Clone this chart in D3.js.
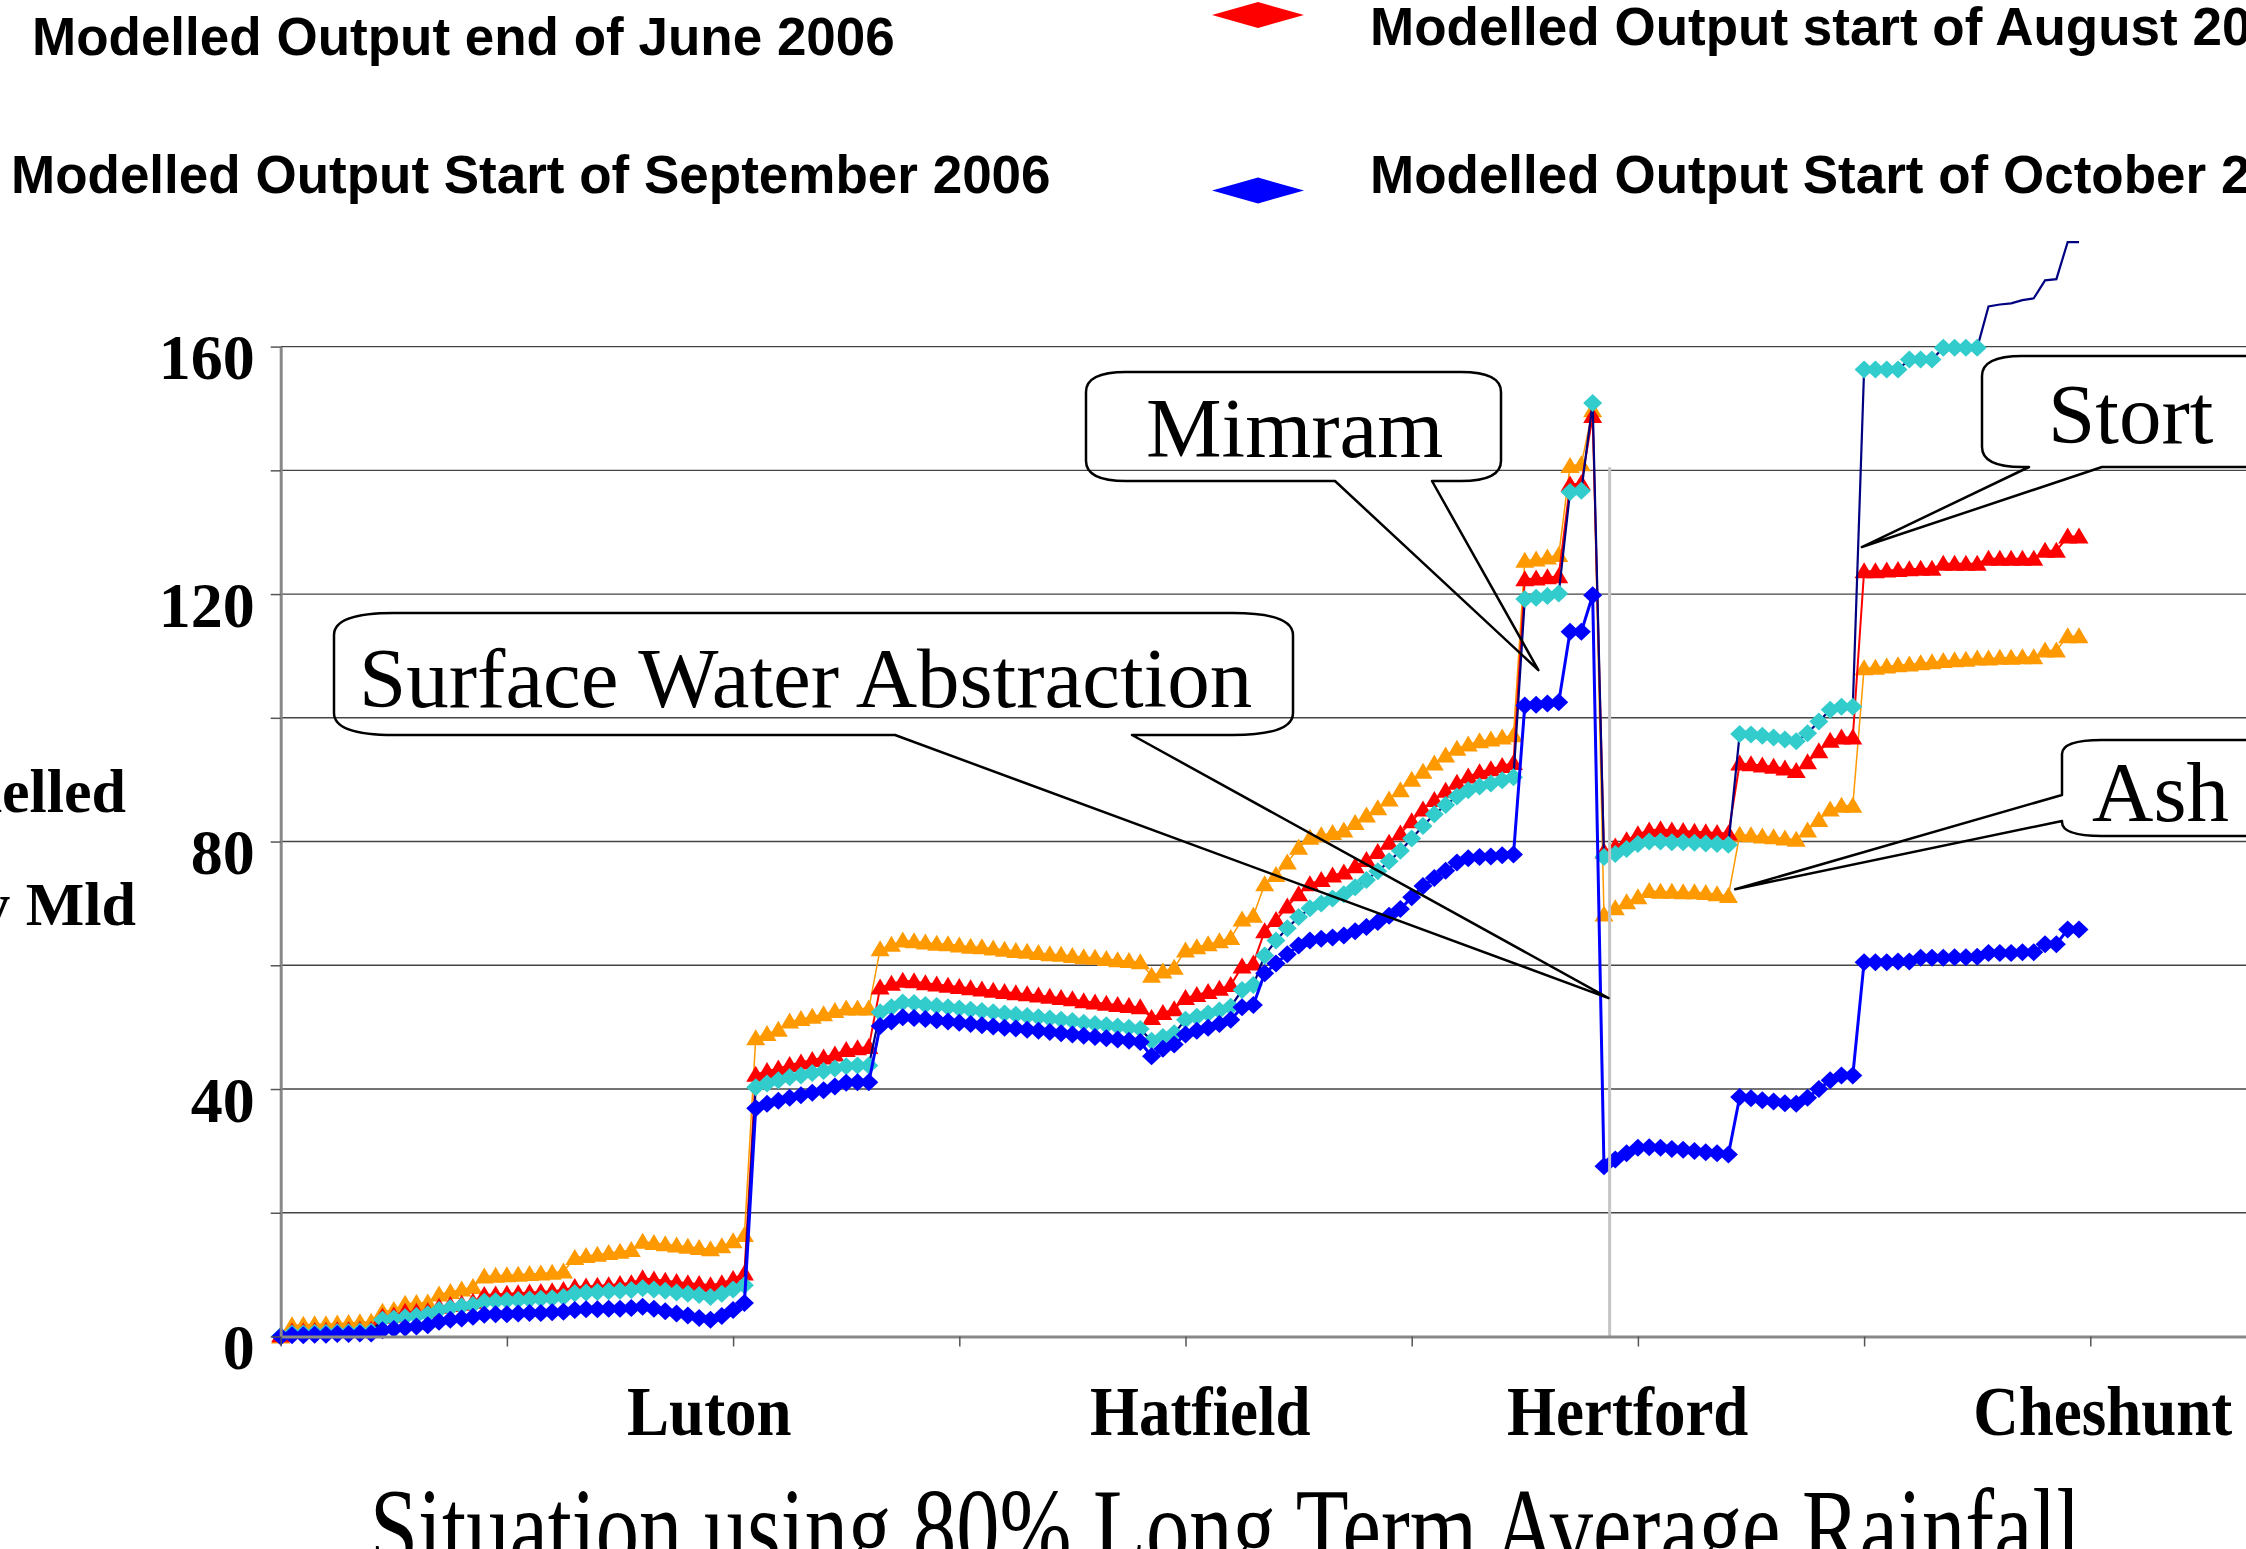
<!DOCTYPE html>
<html lang="en">
<head>
<meta charset="utf-8">
<title>Modelled output along the river, 80% LTA rainfall</title>
<script src="https://d3js.org/d3.v7.min.js"></script>
<style>
  body { margin: 0; background: #fff; }
  svg { display: block; }
  .serif { font-family: "Liberation Serif", "Times New Roman", serif; }
  .sans { font-family: "Liberation Sans", Arial, sans-serif; font-weight: bold; }
</style>
</head>
<body>
<script>

// ---- data, one value per reach / category ----
var seriesNames = ["Modelled Output end of June 2006", "Modelled Output start of August 2006",
                   "Modelled Output Start of September 2006", "Modelled Output Start of October 2006"];

var outJune = [0,
  1.8,1.9,2.0,2.0,2.1,2.2,2.3,2.4, 4.0,4.3, 5.3,5.4,5.5, 6.8,7.2,7.6,8.0,
  9.7,9.8,9.9,10.0,10.1,10.2,10.3,10.5, 12.7,13.0,13.2,13.5,13.7,14.0,
  15.3,15.1,14.9,14.7,14.5,14.3,14.1, 14.6,15.4,16.4,
  48.2,48.9,49.6,50.9,51.3,51.7,52.1,52.6,53.0,53.0,53.0,
  62.6,63.3,64.0,
  63.9,63.7,63.5,63.4,63.2,63.0,62.9,62.7,62.5,62.3,62.2,62.0,61.8,61.7,61.5,61.3,61.2,61.0,60.8,60.7,60.5,
  58.3,59.0,59.6, 62.4,62.9,63.4,63.9,64.4, 67.4,68.0,
  73.1,74.6,76.6,79.0,80.6,81.0,81.4,81.8,83.0,84.2,85.4,86.8,88.3,90.0,91.3,92.6,93.9,95.0,95.7,96.2,96.5,96.8,97.2,
  125.4,125.6,125.9,126.3,140.7,141.0,149.7,
  68.2,69.2,70.2,71.0,72.0,71.9,71.9,71.8,71.8,71.7,71.5,71.2,
  81.1,81.0,80.8,80.7,80.5,80.3, 81.8,83.5,85.2,85.8,85.8,
  108.0,108.1,108.3,108.5,108.6,108.8,109.0,109.2,109.3,109.4,109.6,109.6,109.7,109.7,109.8,109.8,110.9,110.9,113.2,113.2];

var outAugust = [0.2,
  0.8,0.8,0.9,0.9,1.0,1.0,1.1,1.1, 3.2,3.4, 4.0,4.0,4.1, 4.8,5.1,5.3,5.6,
  6.7,6.8,6.9,7.0,7.1,7.2,7.3,7.5, 8.0,8.1,8.2,8.3,8.5,8.6,
  9.4,9.2,9.0,8.8,8.6,8.5,8.3, 8.6,9.3,10.2,
  42.3,42.9,43.3,43.9,44.3,44.7,45.1,45.6,46.3,46.6,46.8,
  56.4,57.0,57.5,
  57.4,57.1,56.9,56.7,56.5,56.3,56.1,55.9,55.7,55.5,55.3,55.1,54.9,54.7,54.5,54.2,54.0,53.8,53.6,53.4,53.2,
  51.5,52.3,52.9, 54.7,55.2,55.7,56.2,56.8, 59.8,60.3,
  65.5,67.3,69.5,71.5,73.1,73.8,74.5,75.0,76.0,77.0,78.3,79.8,81.3,83.3,85.2,86.7,88.2,89.5,90.5,91.2,91.7,92.2,92.7,
  122.4,122.5,122.7,122.9,137.7,137.9,148.8,
  78.4,79.2,80.2,81.2,81.8,82.0,81.8,81.7,81.6,81.5,81.4,81.3,
  92.6,92.5,92.3,92.1,91.8,91.4, 92.8,94.6,96.3,96.8,96.8,
  123.7,123.7,123.8,123.9,124.0,124.1,124.1,124.9,124.9,124.9,124.9,125.7,125.7,125.7,125.7,125.7,127.0,127.0,129.3,129.3];

var outSeptember = [0.1,
  0.5,0.5,0.6,0.6,0.7,0.7,0.8,0.8, 2.7,2.9,3.1,3.3,3.6, 4.3,4.6,4.9,5.1,
  5.6,5.7,5.8,5.9,6.0,6.1,6.2,6.4, 7.0,7.1,7.2,7.3,7.4,7.5,
  7.8,7.6,7.4,7.1,6.9,6.7,6.4, 6.9,7.6,8.3,
  40.3,40.9,41.4,41.9,42.2,42.6,42.9,43.3,43.7,43.8,43.8,
  52.4,53.2,54.0,
  53.9,53.6,53.4,53.2,53.0,52.8,52.6,52.4,52.2,52.0,51.8,51.6,51.4,51.2,51.0,50.7,50.5,50.3,50.1,49.9,49.7,
  47.8,48.4,49.0, 51.2,51.7,52.2,52.7,53.3, 56.0,56.8,
  61.6,64.0,66.0,67.8,69.2,70.0,70.8,71.5,72.6,73.8,75.2,76.8,78.5,80.5,82.5,84.4,85.9,87.3,88.3,88.9,89.4,89.9,90.4,
  119.2,119.4,119.7,120.1,136.5,136.7,150.9,
  77.5,78.0,78.8,79.6,80.0,80.0,79.9,79.9,79.8,79.7,79.6,79.5,
  97.4,97.3,97.1,96.8,96.5,96.2, 97.5,99.4,101.3,101.8,101.8,
  156.3,156.3,156.3,156.3,157.9,157.9,157.9,159.8,159.8,159.8,159.8,166.5,166.8,167.0,167.5,167.8,170.7,170.9,176.9,176.9];

var outOctober = [0,
  0.2,0.2,0.3,0.3,0.4,0.4,0.5,0.5, 1.0,1.2,1.4,1.6,1.8, 2.4,2.7,2.9,3.2,
  3.5,3.6,3.6,3.7,3.8,3.8,3.9,4.0, 4.3,4.4,4.4,4.5,4.5,4.6,
  4.8,4.5,4.1,3.7,3.4,3.0,2.7, 3.3,4.3,5.4,
  36.9,37.6,38.1,38.6,39.0,39.4,39.8,40.4,41.0,41.1,41.1,
  50.2,50.9,51.6,
  51.5,51.3,51.1,50.9,50.7,50.5,50.3,50.1,49.9,49.8,49.6,49.4,49.2,49.0,48.8,48.6,48.4,48.2,48.0,47.8,47.6,
  45.3,46.5,47.2, 48.8,49.4,49.9,50.5,51.2, 53.2,53.6,
  58.7,60.3,61.8,63.2,64.0,64.3,64.5,64.8,65.5,66.2,67.0,68.0,69.1,71.0,72.8,74.1,75.3,76.6,77.3,77.5,77.6,77.8,77.9,
  102.0,102.1,102.3,102.5,113.9,113.9,119.8,
  27.5,28.6,29.6,30.5,30.6,30.5,30.3,30.2,30.0,29.8,29.6,29.4,
  38.7,38.5,38.2,38.0,37.7,37.6, 38.6,40.0,41.4,42.2,42.2,
  60.5,60.5,60.5,60.6,60.6,61.2,61.2,61.2,61.3,61.3,61.4,62.0,62.0,62.0,62.1,62.1,63.4,63.4,65.8,65.8];

var yTicks = [0, 20, 40, 60, 80, 100, 120, 140, 160];
var xTicks = [0, 20, 40, 60, 80, 100, 120, 140, 160];    // category index of each tick mark
var places = ["Luton", "Hatfield", "Hertford", "Cheshunt"];
var placeAt = [37.9, 81.3, 119.1, 161.1];                // category index under each town name

var calloutText = ["Surface Water Abstraction", "Mimram", "Stort", "Ash"];
var calloutTip = [[117.4, 54.7], [111.2, 107.7], [139.8, 127.6], [128.6, 72.3]];  // [category, Mld]
var weirLine = [117.5, 0, 140.5];                        // [category, from, to]

// ---- setup ----
var w = 2246, h = 1549;

var svg = d3.select("body").append("svg")
    .attr("width", w)
    .attr("height", h);

svg.append("rect").attr("width", w).attr("height", h).attr("fill", "#fff");

var x = d3.scaleLinear().domain([0, 174]).range([280.7, 280.7 + 174 * 11.31]);
var y = d3.scaleLinear().domain([0, 160]).range([1336.5, 346.6]);

// gridlines
svg.append("g").selectAll("line")
    .data(yTicks.filter(function(d) { return d > 0; }))
    .join("line")
    .attr("x1", x(0)).attr("x2", w)
    .attr("y1", function(d) { return y(d); })
    .attr("y2", function(d) { return y(d); })
    .attr("stroke", "#444")
    .attr("stroke-width", 1.4);

// series: line colour, marker colour, marker shape
var tri = "M0,-9L9.5,7L-9.5,7Z";
var dia = "M0,-9L9.5,0L0,9L-9.5,0Z";
var series = [
  { values: outJune,      line: "#FF9900", fill: "#FF9900", lw: 1.5, shape: tri },
  { values: outAugust,    line: "#FF0000", fill: "#FF0000", lw: 2,   shape: tri },
  { values: outSeptember, line: "#000080", fill: "#33CCCC", lw: 2.2, shape: dia },
  { values: outOctober,   line: "#0000FF", fill: "#0000FF", lw: 3,   shape: dia }
];

var line = d3.line()
    .x(function(d, i) { return x(i); })
    .y(function(d) { return y(d); });

series.forEach(function(s) {
  var g = svg.append("g");
  g.append("path")
    .attr("d", line(s.values))
    .attr("fill", "none")
    .attr("stroke", s.line)
    .attr("stroke-width", s.lw);

  // markers above the axis maximum are not drawn
  g.selectAll("path.mk")
    .data(s.values.map(function(v, i) { return [i, v]; }).filter(function(p) { return p[1] <= 160.5; }))
    .join("path")
    .attr("class", "mk")
    .attr("d", s.shape)
    .attr("transform", function(p) { return "translate(" + x(p[0]) + "," + y(p[1]) + ")"; })
    .attr("fill", s.fill);
});

// light grey vertical line at Hertford
svg.append("line")
    .attr("x1", x(weirLine[0])).attr("x2", x(weirLine[0]))
    .attr("y1", y(weirLine[1])).attr("y2", y(weirLine[2]))
    .attr("stroke", "#c4c4c4")
    .attr("stroke-width", 3);

// axes
var yAxis = d3.axisLeft(y).tickValues(yTicks).tickSize(10).tickSizeOuter(0).tickPadding(16)
    .tickFormat(function(d) { return d % 40 === 0 ? d : ""; });
var gy = svg.append("g").attr("transform", "translate(" + x(0) + ",0)").call(yAxis);
gy.select(".domain").attr("stroke", "#888").attr("stroke-width", 3);
gy.selectAll(".tick line").attr("stroke", "#555").attr("stroke-width", 1.5);
gy.selectAll(".tick text")
    .attr("class", "serif")
    .attr("fill", "#000")
    .attr("dy", "0.5em")
    .style("font-size", "64px")
    .style("font-weight", "bold");

var xAxis = d3.axisBottom(x).tickValues(xTicks).tickSize(10).tickSizeOuter(0).tickFormat("");
var gx = svg.append("g").attr("transform", "translate(0," + y(0) + ")").call(xAxis);
gx.select(".domain").attr("stroke", "#888").attr("stroke-width", 3);
gx.selectAll(".tick line").attr("stroke", "#555").attr("stroke-width", 1.5);

svg.append("g").selectAll("text")
    .data(places)
    .join("text")
    .attr("class", "serif")
    .attr("text-anchor", "middle")
    .attr("transform", function(d, i) { return "translate(" + x(placeAt[i]) + ",1435) scale(1,1.1)"; })
    .style("font-size", "63px")
    .style("font-weight", "bold")
    .text(function(d) { return d; });

// y axis title (cut by the left edge in the original)
svg.append("text").attr("class", "serif").attr("text-anchor", "end")
    .attr("x", 126).attr("y", 812)
    .style("font-size", "62px").style("font-weight", "bold")
    .text("Modelled");
svg.append("text").attr("class", "serif").attr("text-anchor", "end")
    .attr("x", 136).attr("y", 925)
    .style("font-size", "62px").style("font-weight", "bold")
    .text("Supply Mld");

// bottom title
svg.append("text").attr("class", "serif")
    .attr("transform", "translate(370,1566) scale(1,1.3)")
    .style("font-size", "86.5px")
    .text("Situation using 80% Long Term Average Rainfall");

// legend
svg.append("text").attr("class", "sans").attr("x", 32).attr("y", 55)
    .style("font-size", "53px").text(seriesNames[0]);
svg.append("text").attr("class", "sans").attr("x", 11).attr("y", 193)
    .style("font-size", "53px").text(seriesNames[2]);
svg.append("path").attr("d", "M-46,0L0,-13L46,0L0,13Z")
    .attr("transform", "translate(1258,15)").attr("fill", "#FF0000");
svg.append("text").attr("class", "sans").attr("x", 1370).attr("y", 45)
    .style("font-size", "53px").text(seriesNames[1]);
svg.append("path").attr("d", "M-46,0L0,-13L46,0L0,13Z")
    .attr("transform", "translate(1258,190.5)").attr("fill", "#0000FF");
svg.append("text").attr("class", "sans").attr("x", 1370).attr("y", 193)
    .style("font-size", "53px").text(seriesNames[3]);

// callouts
function calloutPath(b, tail, tip) {
  var p = d3.path();
  p.moveTo(b.x0 + b.rx, b.y0);
  p.lineTo(b.x1 - b.rx, b.y0);
  p.quadraticCurveTo(b.x1, b.y0, b.x1, b.y0 + b.ry);
  p.lineTo(b.x1, b.y1 - b.ry);
  p.quadraticCurveTo(b.x1, b.y1, b.x1 - b.rx, b.y1);
  if (tail.side == "bottom") {
    p.lineTo(tail.c, b.y1);
    p.lineTo(tip[0], tip[1]);
    p.lineTo(tail.a, b.y1);
  }
  p.lineTo(b.x0 + b.rx, b.y1);
  p.quadraticCurveTo(b.x0, b.y1, b.x0, b.y1 - b.ry);
  if (tail.side == "left") {
    p.lineTo(b.x0, tail.c);
    p.lineTo(tip[0], tip[1]);
    p.lineTo(b.x0, tail.a);
  }
  p.lineTo(b.x0, b.y0 + b.ry);
  p.quadraticCurveTo(b.x0, b.y0, b.x0 + b.rx, b.y0);
  p.closePath();
  return p.toString();
}

var boxes = [
  { b: { x0: 334, y0: 613, x1: 1293, y1: 735, rx: 60, ry: 22 }, tail: { side: "bottom", a: 895, c: 1132 }, tx: 359, ty: 707 },
  { b: { x0: 1086, y0: 372, x1: 1501, y1: 481, rx: 40, ry: 20 }, tail: { side: "bottom", a: 1335, c: 1432 }, tx: 1146, ty: 457 },
  { b: { x0: 1982, y0: 356, x1: 2330, y1: 467, rx: 40, ry: 20 }, tail: { side: "bottom", a: 2029, c: 2102 }, tx: 2048, ty: 443 },
  { b: { x0: 2062, y0: 740, x1: 2330, y1: 836, rx: 40, ry: 14 }, tail: { side: "left", a: 795, c: 821 }, tx: 2092, ty: 821 }
];

boxes.forEach(function(c, i) {
  var tip = [x(calloutTip[i][0]), y(calloutTip[i][1])];
  svg.append("path")
    .attr("d", calloutPath(c.b, c.tail, tip))
    .attr("fill", "none")
    .attr("stroke", "#000")
    .attr("stroke-width", 2.5)
    .attr("stroke-linejoin", "round");
  svg.append("text")
    .attr("class", "serif")
    .attr("x", c.tx).attr("y", c.ty)
    .style("font-size", "85px")
    .text(calloutText[i]);
});

</script>
</body>
</html>
